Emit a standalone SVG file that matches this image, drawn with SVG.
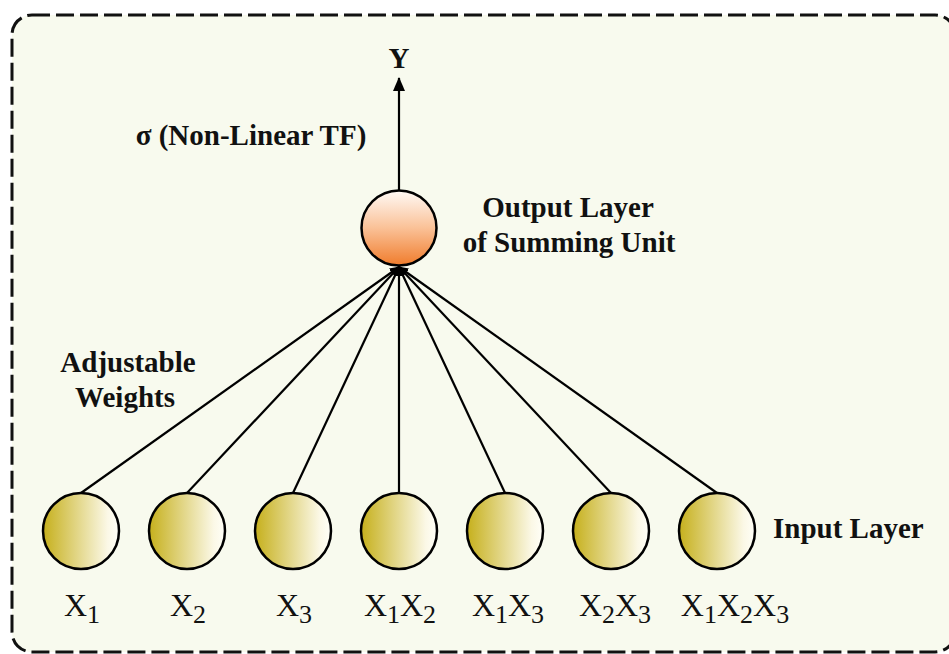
<svg xmlns="http://www.w3.org/2000/svg" width="949" height="654" viewBox="0 0 949 654">
<style>
.lbl{font-family:"Liberation Serif","Times New Roman",serif;font-weight:bold;font-size:29px;fill:#111}
.var{font-family:"Liberation Serif","Times New Roman",serif;font-size:32px;fill:#111}
.sub{font-size:26px}
.edge{stroke:#000;stroke-width:2.2;fill:none}
.in{fill:url(#gIn);stroke:#000;stroke-width:2.5}
</style>
<defs>
<linearGradient id="gIn" x1="0" y1="0" x2="1" y2="0">
<stop offset="0" stop-color="#C6B01C"/>
<stop offset="0.85" stop-color="#FBF8E6"/>
<stop offset="1" stop-color="#FFFFF8"/>
</linearGradient>
<linearGradient id="gOut" x1="0" y1="0" x2="0" y2="1">
<stop offset="0" stop-color="#FFFAF6"/>
<stop offset="0.5" stop-color="#FAC197"/>
<stop offset="1" stop-color="#F07C2C"/>
</linearGradient>
<marker id="ah" markerUnits="userSpaceOnUse" markerWidth="14" markerHeight="12" refX="13" refY="6" orient="auto">
<path d="M0,0 L14,6 L0,12 Z" fill="#000"/>
</marker>
<marker id="ahs" markerUnits="userSpaceOnUse" markerWidth="10" markerHeight="9" refX="9" refY="4.5" orient="auto">
<path d="M0,0 L10,4.5 L0,9 Z" fill="#000"/>
</marker>
</defs>
<rect x="0" y="0" width="949" height="654" fill="#fff"/>
<rect id="frame" x="12" y="15" width="943" height="637" rx="20" fill="#F8FAEE" stroke="#111" stroke-width="3" stroke-dasharray="18 6"/>
<g id="connectors">
<line class="edge" x1="399" y1="190" x2="399" y2="78" marker-end="url(#ah)"/>
<line class="edge" x1="81" y1="493" x2="399" y2="267" marker-end="url(#ahs)"/>
<line class="edge" x1="187" y1="493" x2="399" y2="267" marker-end="url(#ahs)"/>
<line class="edge" x1="293" y1="493" x2="399" y2="267" marker-end="url(#ahs)"/>
<line class="edge" x1="399" y1="493" x2="399" y2="267" marker-end="url(#ahs)"/>
<line class="edge" x1="505" y1="493" x2="399" y2="267" marker-end="url(#ahs)"/>
<line class="edge" x1="611" y1="493" x2="399" y2="267" marker-end="url(#ahs)"/>
<line class="edge" x1="717" y1="493" x2="399" y2="267" marker-end="url(#ahs)"/>
</g>
<g id="output">
<circle cx="399" cy="228" r="37.5" fill="url(#gOut)" stroke="#000" stroke-width="2.5"/>
<text class="lbl" x="568" y="217" text-anchor="middle">Output Layer</text>
<text class="lbl" x="569" y="252" text-anchor="middle">of Summing Unit</text>
</g>
<g id="y-label"><text class="lbl" x="399" y="68" text-anchor="middle">Y</text></g>
<g id="tf-label"><text class="lbl" x="251" y="145" text-anchor="middle">σ (Non-Linear TF)</text></g>
<g id="weights-label">
<text class="lbl" x="128" y="372" text-anchor="middle">Adjustable</text>
<text class="lbl" x="125" y="407" text-anchor="middle">Weights</text>
</g>
<g id="in1"><circle class="in" cx="81" cy="531" r="38"/><text class="var" x="82" y="616" text-anchor="middle">X<tspan class="sub" dy="7">1</tspan></text></g>
<g id="in2"><circle class="in" cx="187" cy="531" r="38"/><text class="var" x="188" y="616" text-anchor="middle">X<tspan class="sub" dy="7">2</tspan></text></g>
<g id="in3"><circle class="in" cx="293" cy="531" r="38"/><text class="var" x="294" y="616" text-anchor="middle">X<tspan class="sub" dy="7">3</tspan></text></g>
<g id="in4"><circle class="in" cx="399" cy="531" r="38"/><text class="var" x="400" y="616" text-anchor="middle">X<tspan class="sub" dy="7">1</tspan><tspan dy="-7">X</tspan><tspan class="sub" dy="7">2</tspan></text></g>
<g id="in5"><circle class="in" cx="505" cy="531" r="38"/><text class="var" x="508" y="616" text-anchor="middle">X<tspan class="sub" dy="7">1</tspan><tspan dy="-7">X</tspan><tspan class="sub" dy="7">3</tspan></text></g>
<g id="in6"><circle class="in" cx="611" cy="531" r="38"/><text class="var" x="615" y="616" text-anchor="middle">X<tspan class="sub" dy="7">2</tspan><tspan dy="-7">X</tspan><tspan class="sub" dy="7">3</tspan></text></g>
<g id="in7"><circle class="in" cx="717" cy="531" r="38"/><text class="var" x="735" y="616" text-anchor="middle">X<tspan class="sub" dy="7">1</tspan><tspan dy="-7">X</tspan><tspan class="sub" dy="7">2</tspan><tspan dy="-7">X</tspan><tspan class="sub" dy="7">3</tspan></text></g>
<g id="input-label"><text class="lbl" x="773" y="538">Input Layer</text></g>
</svg>
